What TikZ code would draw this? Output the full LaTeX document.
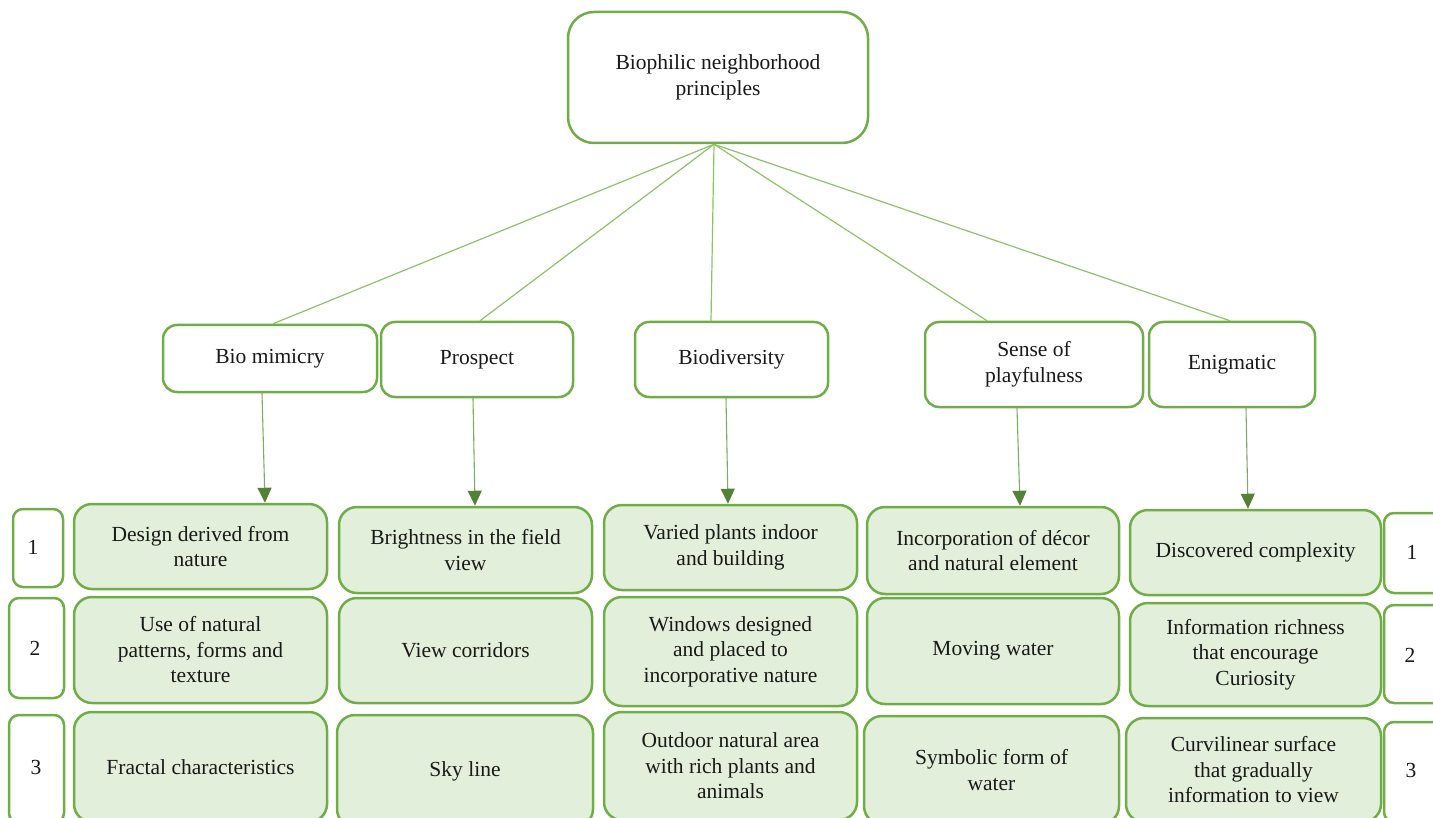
\documentclass[tikz,border=0pt]{standalone}
\usepackage{fontspec}
\setmainfont{Liberation Serif}
\usetikzlibrary{arrows.meta}
\definecolor{gborder}{HTML}{70AD47}
\definecolor{gfill}{HTML}{E2EFDA}
\definecolor{gline}{HTML}{8DC16B}
\definecolor{garrow}{HTML}{7FAA66}
\definecolor{ghead}{HTML}{538135}
\begin{document}
\begin{tikzpicture}[x=1pt,y=-1pt,
 every node/.style={font=\fontsize{21.5}{25.5}\selectfont, align=center, inner sep=0pt, text=black!90},
 topbox/.style={draw=gborder, line width=2.5pt, fill=white, rounded corners=26pt},
 midbox/.style={draw=gborder, line width=2.5pt, fill=white, rounded corners=14pt},
 leafbox/.style={draw=gborder, line width=2.5pt, fill=gfill, rounded corners=18pt},
 numbox/.style={draw=gborder, line width=2.5pt, fill=white, rounded corners=10pt},
 branch/.style={draw=gline, line width=1.2pt},
 down/.style={draw=garrow, line width=1.1pt, -{Triangle[width=14pt,length=15pt,color=ghead]}},
]
\useasboundingbox (0,0) rectangle (1433,818);
\clip (0,0) rectangle (1433,818);

% top
\node[topbox, minimum width=300pt, minimum height=131pt] (top) at (718,77.5) {Biophilic neighborhood\\principles};

% second level
\node[midbox, minimum width=214pt, minimum height=67pt] (bm) at (270,358.5) {Bio mimicry};
\node[midbox, minimum width=192pt, minimum height=75pt] (pr) at (477,359.5) {Prospect};
\node[midbox, minimum width=193pt, minimum height=75pt] (bd) at (731.5,359.5) {Biodiversity};
\node[midbox, minimum width=218pt, minimum height=85pt] (sp) at (1034,364.5) {Sense of\\playfulness};
\node[midbox, minimum width=166pt, minimum height=85pt] (en) at (1232,364.5) {Enigmatic};

% leaves column 1
\node[leafbox, minimum width=253pt, minimum height=85pt] (a1) at (200.5,546.5) {Design derived from\\nature};
\node[leafbox, minimum width=253pt, minimum height=106pt] (a2) at (200.5,650) {Use of natural\\patterns, forms and\\texture};
\node[leafbox, minimum width=253pt, minimum height=110pt] (a3) at (200.5,767) {Fractal characteristics};
% column 2
\node[leafbox, minimum width=253pt, minimum height=86pt] (b1) at (465.5,550) {Brightness in the field\\view};
\node[leafbox, minimum width=253pt, minimum height=105pt] (b2) at (465.5,650.5) {View corridors};
\node[leafbox, minimum width=256pt, minimum height=112pt] (b3) at (465,771) {Sky line};
% column 3
\node[leafbox, minimum width=253pt, minimum height=85pt] (c1) at (730.5,547.5) {Varied plants indoor\\and building};
\node[leafbox, minimum width=253pt, minimum height=109pt] (c2) at (730.5,651.5) {Windows designed\\and placed to\\incorporative nature};
\node[leafbox, minimum width=253pt, minimum height=108pt] (c3) at (730.5,766) {Outdoor natural area\\with rich plants and\\animals};
% column 4
\node[leafbox, minimum width=252pt, minimum height=87pt] (d1) at (993,550.5) {Incorporation of décor\\and natural element};
\node[leafbox, minimum width=252pt, minimum height=106pt] (d2) at (993,651) {Moving water};
\node[leafbox, minimum width=255pt, minimum height=108pt] (d3) at (991.5,770) {Symbolic form of\\water};
% column 5
\node[leafbox, minimum width=251pt, minimum height=85pt] (e1) at (1255.5,552.5) {Discovered complexity};
\node[leafbox, minimum width=251pt, minimum height=103pt] (e2) at (1255.5,654.5) {Information richness\\that encourage\\Curiosity};
\node[leafbox, minimum width=255pt, minimum height=104pt] (e3) at (1253.5,770) {Curvilinear surface\\that gradually\\information to view};

% number boxes left
\node[numbox, minimum width=50pt, minimum height=78pt] (l1) at (38,548) {};
\node (l1t) at (33,547) {1};
\node[numbox, minimum width=55pt, minimum height=100pt] (l2) at (36.5,648) {};
\node (l2t) at (35,648) {2};
\node[numbox, minimum width=55pt, minimum height=108pt] (l3) at (36.5,769) {};
\node (l3t) at (36,767) {3};
% number boxes right
\node[numbox, minimum width=60pt, minimum height=80pt] (r1) at (1414,553) {};
\node (r1t) at (1412,552) {1};
\node[numbox, minimum width=60pt, minimum height=98pt] (r2) at (1414,654) {};
\node (r2t) at (1410,655) {2};
\node[numbox, minimum width=60pt, minimum height=100pt] (r3) at (1414,772) {};
\node (r3t) at (1411,770) {3};

% branches from top
\draw[branch] ([xshift=-4pt]top.south) -- ([xshift=3pt]bm.north);
\draw[branch] ([xshift=-4pt]top.south) -- ([xshift=3pt]pr.north);
\draw[branch] ([xshift=-4pt]top.south) -- ([xshift=-20.5pt]bd.north);
\draw[branch] ([xshift=-4pt]top.south) -- ([xshift=-47pt]sp.north);
\draw[branch] ([xshift=-4pt]top.south) -- ([xshift=-2pt]en.north);

% arrows down
\draw[down] ([xshift=-8pt]bm.south) -- ([xshift=64.5pt]a1.north);
\draw[down] ([xshift=-4pt]pr.south) -- ([xshift=9.5pt]b1.north);
\draw[down] ([xshift=-5.5pt]bd.south) -- ([xshift=-2.5pt]c1.north);
\draw[down] ([xshift=-17pt]sp.south) -- ([xshift=27pt]d1.north);
\draw[down] ([xshift=14pt]en.south) -- ([xshift=-7.5pt]e1.north);
\end{tikzpicture}
\end{document}
